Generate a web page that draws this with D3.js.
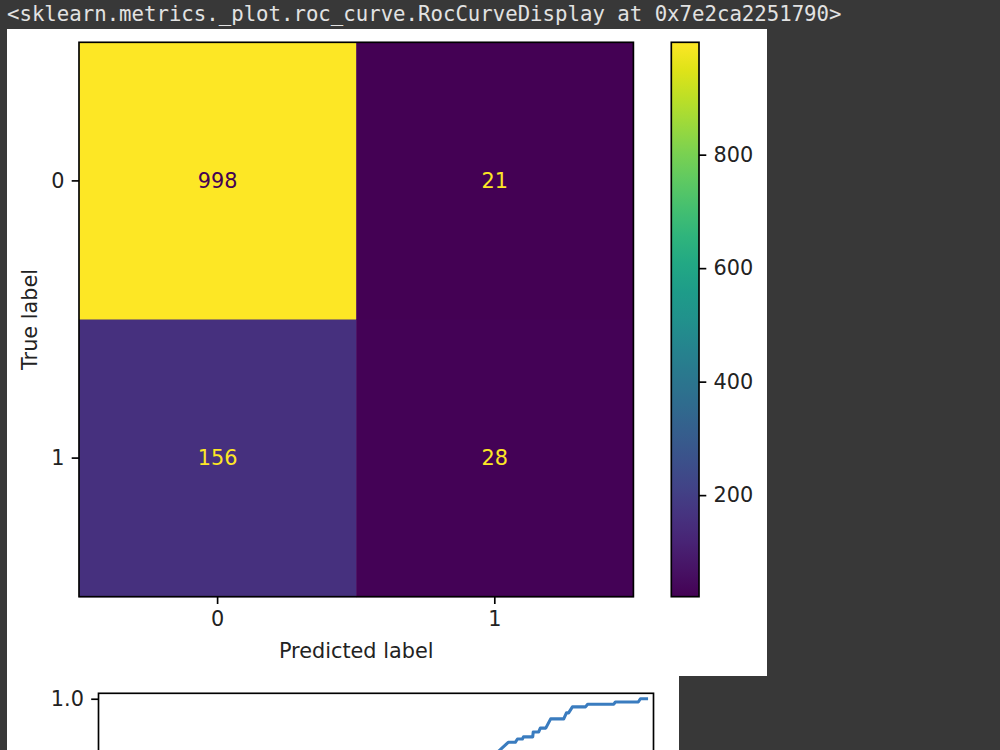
<!DOCTYPE html>
<html>
<head>
<meta charset="utf-8">
<script src="https://cdn.jsdelivr.net/npm/d3@7"></script>
<style>
html,body{margin:0;padding:0;background:#383838;}
svg{display:block;}
</style>
</head>
<body>
<svg id="chart" width="1000" height="750"></svg>
<script>
// ---- data ----
const headerText = "<sklearn.metrics._plot.roc_curve.RocCurveDisplay at 0x7e2ca2251790>";
const trueLabels = ["0", "1"];
const predLabels = ["0", "1"];
const matrixRow0 = [998, 21];
const matrixRow1 = [156, 28];
const colorbarTicks = [200, 400, 600, 800];
const rocFpr = [0.0, 0.02, 0.08, 0.2, 0.35, 0.5, 0.62, 0.7, 0.729, 0.743, 0.756, 0.760, 0.769, 0.771, 0.788, 0.789, 0.799, 0.802, 0.812, 0.821, 0.845, 0.850, 0.854, 0.861, 0.885, 0.889, 0.937, 0.940, 0.982, 0.986, 1.0];
const rocTpr = [0.0, 0.12, 0.3, 0.48, 0.62, 0.74, 0.83, 0.88, 0.907, 0.920, 0.920, 0.926, 0.926, 0.930, 0.930, 0.939, 0.939, 0.946, 0.946, 0.963, 0.963, 0.974, 0.974, 0.985, 0.985, 0.990, 0.990, 0.994, 0.994, 1.0, 1.0];
const rocYTicks = [1.0];

// ---- layout ----
const FONT = "'DejaVu Sans', sans-serif";
const FS = 20.8, TICK = 7.3, LW = 1.67;
const svg = d3.select("#chart");

svg.append("text").attr("x", 7).attr("y", 21)
  .attr("font-family", "'DejaVu Sans Mono', monospace").attr("font-size", 20.7)
  .attr("fill", "#e2e2e2").text(headerText);

svg.append("rect").attr("x", 7).attr("y", 29).attr("width", 760).attr("height", 647).attr("fill", "#fff");
svg.append("rect").attr("x", 7).attr("y", 676).attr("width", 672).attr("height", 74).attr("fill", "#fff");

// ---- confusion matrix ----
const ax = {x0: 79, x1: 633.4, y0: 42.3, y1: 596.7};
const xB = d3.scaleBand().domain(predLabels).range([ax.x0, ax.x1]);
const yB = d3.scaleBand().domain(trueLabels).range([ax.y0, ax.y1]);
const matrix = [matrixRow0, matrixRow1];
const cells = [];
matrix.forEach((row, i) => row.forEach((v, j) => cells.push({t: trueLabels[i], p: predLabels[j], v})));
const vmin = d3.min(cells, d => d.v), vmax = d3.max(cells, d => d.v);
const color = d3.scaleSequential(d3.interpolateViridis).domain([vmin, vmax]);

const g = svg.append("g");
g.selectAll("rect.cell").data(cells).join("rect").attr("class", "cell")
  .attr("x", d => xB(d.p)).attr("y", d => yB(d.t))
  .attr("width", xB.bandwidth() + 0.5).attr("height", yB.bandwidth() + 0.5)
  .attr("fill", d => color(d.v));
const thresh = (vmin + vmax) / 2;
g.selectAll("text.val").data(cells).join("text").attr("class", "val")
  .attr("x", d => xB(d.p) + xB.bandwidth() / 2).attr("y", d => yB(d.t) + yB.bandwidth() / 2)
  .attr("text-anchor", "middle").attr("dominant-baseline", "central")
  .attr("font-family", FONT).attr("font-size", FS)
  .attr("fill", d => d.v < thresh ? color(vmax) : color(vmin)).text(d => d.v);
g.append("rect").attr("x", ax.x0).attr("y", ax.y0).attr("width", ax.x1 - ax.x0).attr("height", ax.y1 - ax.y0)
  .attr("fill", "none").attr("stroke", "#000").attr("stroke-width", LW);

function styleAxis(sel) {
  sel.select(".domain").remove();
  sel.selectAll(".tick line").attr("stroke", "#000").attr("stroke-width", LW);
  sel.selectAll(".tick text").attr("font-family", FONT).attr("font-size", FS).attr("fill", "#222");
}
svg.append("g").attr("transform", `translate(0,${ax.y1})`)
  .call(d3.axisBottom(xB).tickSize(TICK).tickPadding(TICK)).call(styleAxis);
svg.append("g").attr("transform", `translate(${ax.x0},0)`)
  .call(d3.axisLeft(yB).tickSize(TICK).tickPadding(TICK)).call(styleAxis);

svg.append("text").attr("x", (ax.x0 + ax.x1) / 2).attr("y", 658).attr("text-anchor", "middle")
  .attr("font-family", FONT).attr("font-size", FS).attr("fill", "#222").text("Predicted label");
svg.append("text").attr("transform", `translate(37,${(ax.y0 + ax.y1) / 2}) rotate(-90)`).attr("text-anchor", "middle")
  .attr("font-family", FONT).attr("font-size", FS).attr("fill", "#222").text("True label");

// ---- colorbar ----
const cb = {x0: 671.3, x1: 699, y0: 42.3, y1: 596.7};
const cbScale = d3.scaleLinear().domain([vmin, vmax]).range([cb.y1, cb.y0]);
const defs = svg.append("defs");
const grad = defs.append("linearGradient").attr("id", "cbgrad").attr("x1", 0).attr("y1", 1).attr("x2", 0).attr("y2", 0);
d3.range(0, 1.0001, 0.05).forEach(t => grad.append("stop").attr("offset", t).attr("stop-color", d3.interpolateViridis(t)));
svg.append("rect").attr("x", cb.x0).attr("y", cb.y0).attr("width", cb.x1 - cb.x0).attr("height", cb.y1 - cb.y0)
  .attr("fill", "url(#cbgrad)").attr("stroke", "#000").attr("stroke-width", LW);
svg.append("g").attr("transform", `translate(${cb.x1},0)`)
  .call(d3.axisRight(cbScale).tickValues(colorbarTicks).tickSize(TICK).tickPadding(TICK)).call(styleAxis);

// ---- ROC plot (partially visible) ----
const rAx = {x0: 98.5, x1: 653.5, y0: 693.3};
const xR = d3.scaleLinear().domain([-0.01, 1.01]).range([rAx.x0, rAx.x1]);
const yR = d3.scaleLinear().domain([-0.01, 1.01]).range([rAx.y0 + (rAx.x1 - rAx.x0), rAx.y0]);
const roc = rocFpr.map((f, i) => [f, rocTpr[i]]);
svg.append("path").datum(roc).attr("fill", "none").attr("stroke", "#3a7cbf").attr("stroke-width", 3.1)
  .attr("stroke-linejoin", "round")
  .attr("d", d3.line().x(d => xR(d[0])).y(d => yR(d[1])));
svg.append("rect").attr("x", rAx.x0).attr("y", rAx.y0).attr("width", rAx.x1 - rAx.x0).attr("height", rAx.x1 - rAx.x0)
  .attr("fill", "none").attr("stroke", "#000").attr("stroke-width", LW);
svg.append("g").attr("transform", `translate(${rAx.x0},0)`)
  .call(d3.axisLeft(yR).tickValues(rocYTicks).tickFormat(d3.format(".1f")).tickSize(TICK).tickPadding(TICK)).call(styleAxis);
</script>
</body>
</html>
